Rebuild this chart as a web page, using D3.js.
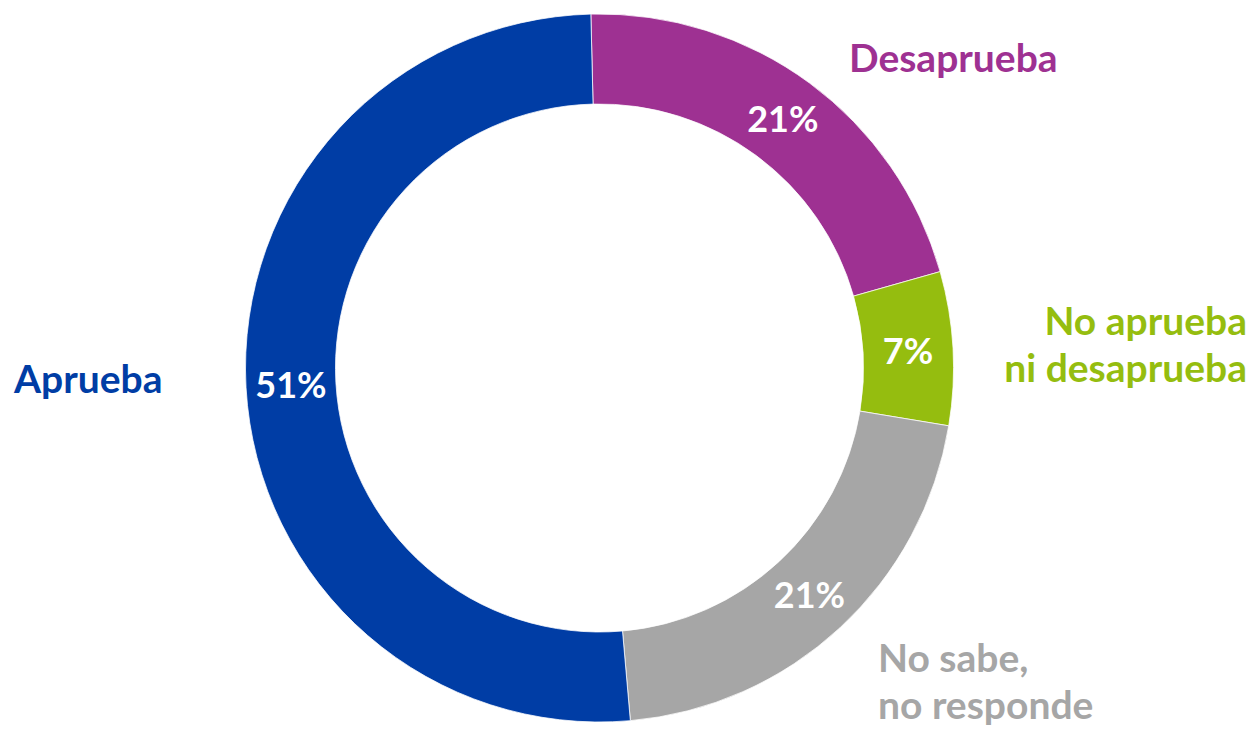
<!DOCTYPE html>
<html>
<head>
<meta charset="utf-8">
<script src="https://cdn.jsdelivr.net/npm/d3@7"></script>
<style>
  body { margin: 0; background: #fff; }
  .donut-chart text { font-family: Lato, "Open Sans", sans-serif; font-weight: bold; }
</style>
</head>
<body>
<div class="donut-chart"></div>
<script>
// Data
var categories = ["Desaprueba", "No aprueba ni desaprueba", "No sabe, no responde", "Aprueba"];
var values = [21, 7, 21, 51];
var percentLabels = ["21%", "7%", "21%", "51%"];
var nameLines = [["Desaprueba"], ["No aprueba", "ni desaprueba"], ["No sabe,", "no responde"], ["Aprueba"]];

var colors = ["#9E3192", "#95BD0F", "#A6A6A6", "#003DA5"];

var width = 1252;
var height = 735;
var cx = 599.5;
var cy = 368;
var outerR = 354;
var innerR = 264;

// where the category names sit (anchor, x, first baseline)
var nameLayout = [
  { anchor: "start", x: 849, y: 72 },
  { anchor: "end", x: 1247, y: 335 },
  { anchor: "start", x: 878, y: 672 },
  { anchor: "start", x: 14, y: 393 }
];
var lineGap = 47;

var svg = d3.select(".donut-chart")
  .append("svg")
  .attr("width", width)
  .attr("height", height);

var g = svg.append("g")
  .attr("transform", `translate(${cx}, ${cy})`);

// Chart starts slightly left of 12 o'clock
var start = -1.4 * Math.PI / 180;
var pie = d3.pie()
  .sort(null)
  .value(function (d) { return d })
  .startAngle(start)
  .endAngle(start + 2 * Math.PI);

var arc = d3.arc()
  .innerRadius(innerR)
  .outerRadius(outerR);

var slices = pie(values);

g.selectAll(".slice")
  .data(slices).enter()
  .append("path")
  .attr("class", "slice")
  .attr("d", arc)
  .style("fill", function (d, i) { return colors[i] })
  .style("stroke", "#fff")
  .style("stroke-width", 0.75);

g.selectAll(".pct")
  .data(slices).enter()
  .append("text")
  .attr("class", "pct")
  .attr("transform", function (d) { return `translate(${arc.centroid(d)})` })
  .attr("text-anchor", "middle")
  .attr("dy", "0.36em")
  .style("font-size", "36px")
  .style("fill", "#fff")
  .text(function (d, i) { return percentLabels[i] });

// Category names
svg.selectAll(".name")
  .data(nameLines).enter()
  .append("text")
  .attr("class", "name")
  .attr("text-anchor", function (d, i) { return nameLayout[i].anchor })
  .style("font-size", "39px")
  .style("fill", function (d, i) { return colors[i] })
  .each(function (d, i) {
    var t = d3.select(this);
    d.forEach(function (line, j) {
      t.append("tspan")
        .attr("x", nameLayout[i].x)
        .attr("y", nameLayout[i].y + j * lineGap)
        .text(line);
    });
  });
</script>
</body>
</html>
